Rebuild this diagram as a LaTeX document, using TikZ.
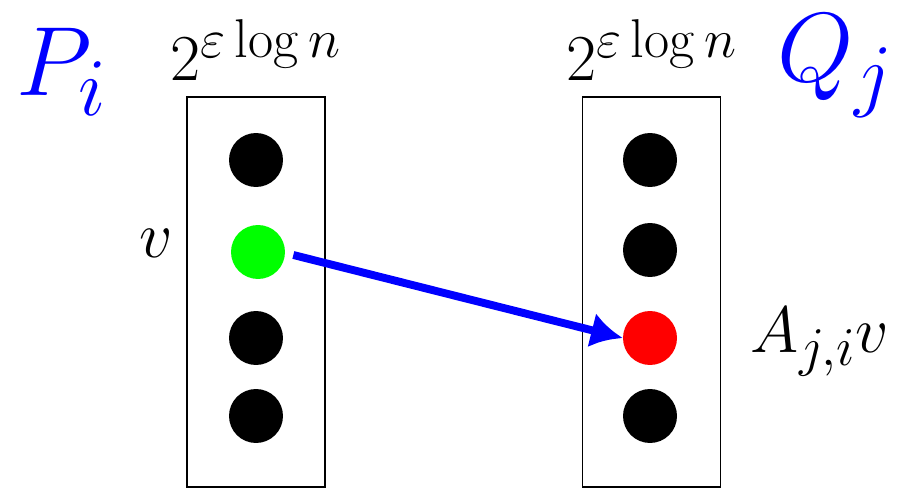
\documentclass[tikz,border=0pt]{standalone}
\usetikzlibrary{arrows.meta}
\begin{document}
\begin{tikzpicture}[x=0.02cm,y=-0.02cm,
  box/.style={draw=black,line width=1.1pt,inner sep=0pt,minimum width=2.76cm,minimum height=7.8cm},
  dot/.style={circle,fill=black,inner sep=0pt,minimum size=1.08cm},
  lbl/.style={inner sep=0pt,font=\Huge,scale=1.5},
  big/.style={inner sep=0pt,text=blue,font=\Huge,scale=2.25}]
\useasboundingbox (0,0) rectangle (905,489);
\node[box] (L) at (256,292) {};
\node[box] (R) at (651.5,292) {};
\node[dot] (l1) at (256,160) {};
\node[dot,fill=green] (l2) at (258,252) {};
\node[dot] (l3) at (256,338) {};
\node[dot] (l4) at (256,416) {};
\node[dot] (r1) at (650,160) {};
\node[dot] (r2) at (650,250) {};
\node[dot,fill=red] (r3) at (650,338) {};
\node[dot] (r4) at (650,416) {};
\node[lbl] (tl) at (256,50) {$2^{\varepsilon\log n}$};
\node[lbl] (tr) at (652,50) {$2^{\varepsilon\log n}$};
\node[big] (P) at (62,72) {$P_i$};
\node[big] (Q) at (836,66) {$Q_j$};
\node[lbl] (v) at (156,243) {$v$};
\node[lbl] (A) at (820,342) {$A_{j,i}v$};
\draw[blue,line width=4.5pt,-{Latex[length=18pt,width=20pt]}] (l2.east)++(8,3) coordinate (s) -- (r3.west);
\end{tikzpicture}
\end{document}
